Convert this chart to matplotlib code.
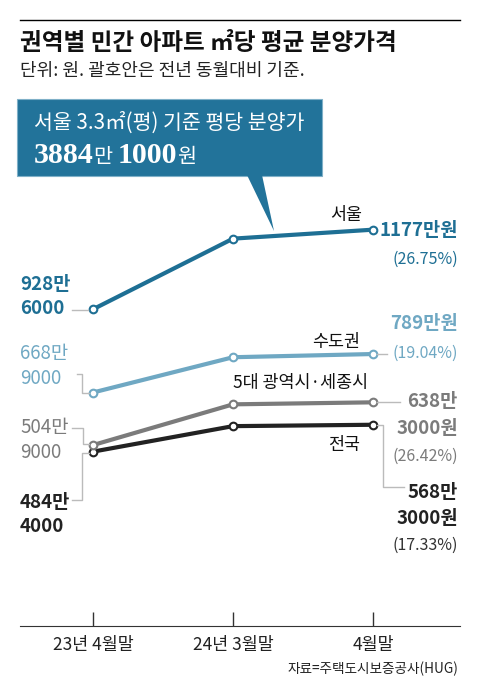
import matplotlib
matplotlib.use('Agg')
import matplotlib.pyplot as plt
from matplotlib.patches import Rectangle, Polygon
from matplotlib.lines import Line2D

plt.rcParams['font.family'] = ['Noto Sans CJK KR', 'DejaVu Sans']

# 데이터 (단위: 만원, 중간 시점은 그림에서 추정)
periods = ['23년 4월말', '24년 3월말', '4월말']
regions = ['서울', '수도권', '5대 광역시·세종시', '전국']
seoul = [928.6, 1149, 1177]
capital = [668.9, 779, 789]
metro = [504.9, 632, 638.3]
nation = [484.4, 564, 568.3]
yoy = ['26.75', '19.04', '26.42', '17.33']

c_seoul = '#1e6f94'
c_box = '#22739a'
c_cap = '#6fa8c3'
c_metro = '#7b7b7b'
c_nat = '#222222'
c_lead = '#bbbbbb'

W, H = 480, 691


def px(x, y):
    return x / W, 1 - y / H


def ftext(x, y, s, **kw):
    kw.setdefault('va', 'center')
    return fig.text(x / W, 1 - y / H, s, **kw)


def leader(xs, ys):
    fig.add_artist(Line2D([x / W for x in xs], [1 - y / H for y in ys],
                          color=c_lead, lw=1, zorder=1))


fig = plt.figure(figsize=(4.8, 6.91), dpi=100)
ax = fig.add_axes([20 / W, 1 - 626 / H, 440 / W, (626 - 100) / H])
ax.patch.set_alpha(0)

for vals, col in zip([nation, metro, capital, seoul], [c_nat, c_metro, c_cap, c_seoul]):
    ax.plot(range(len(periods)), vals, color=col, lw=3, marker='o', ms=5.5,
            mfc='white', mec=col, mew=1.5, solid_joinstyle='miter', zorder=3)

ax.set_xlim(-0.521, 2.621)
ax.set_ylim(-59.6, 1581.6)
ax.set_yticks([])
ax.set_xticks(range(len(periods)))
ax.set_xticklabels(periods)
ax.tick_params(axis='x', direction='in', length=10, width=1, pad=7,
               labelsize=12.5, color='#333333', labelcolor='#222222')
for s in ['top', 'left', 'right']:
    ax.spines[s].set_visible(False)
ax.spines['bottom'].set_color('#333333')

# 제목
fig.add_artist(Line2D([20 / W, 460 / W], [1 - 20 / H] * 2, color='black', lw=1))
ftext(20, 43, '권역별 민간 아파트 ㎡당 평균 분양가격', fontsize=17, fontweight='bold', color='#111111')
ftext(20, 71, '단위: 원. 괄호안은 전년 동월대비 기준.', fontsize=13, color='#222222')

# 말풍선
fig.add_artist(Rectangle(px(17, 176), 305 / W, 77 / H, transform=fig.transFigure,
                         facecolor=c_box, edgecolor='#7fb0c8', lw=0.8, zorder=2))
fig.add_artist(Polygon([px(247, 175), px(262, 175), px(274, 231)], closed=True,
                       transform=fig.transFigure, facecolor=c_box, edgecolor='none', zorder=2))
ftext(34, 123, '서울 3.3㎡(평) 기준 평당 분양가', fontsize=14.8, color='white', zorder=4)

r = fig.canvas.get_renderer()
x0 = 34
for s, kw in [('3884', dict(family=['Liberation Serif'], fontweight='bold', fontsize=21.5)),
              ('만 ', dict(fontsize=15)),
              ('1000', dict(family=['Liberation Serif'], fontweight='bold', fontsize=21.5)),
              ('원', dict(fontsize=15))]:
    t = ftext(x0, 163, s, va='baseline', color='white', zorder=4, **kw)
    x0 += t.get_window_extent(r).width

# 지역 이름
ftext(362, 215, regions[0], fontsize=12.5, ha='right', color='#111111')
ftext(360, 342, regions[1], fontsize=12.5, ha='right', color='#111111')
ftext(368, 383, regions[2], fontsize=12.5, ha='right', color='#111111')
ftext(360, 445, regions[3], fontsize=12.5, ha='right', color='#111111')

# 시작 값
ftext(20, 285, '928만', fontsize=13.5, fontweight='bold', color=c_seoul)
ftext(20, 308, '6000', fontsize=13.5, fontweight='bold', color=c_seoul)
leader([72, 88], [310, 310])

ftext(20, 353, '668만', fontsize=13.5, fontweight='medium', color=c_cap)
ftext(20, 378, '9000', fontsize=13.5, fontweight='medium', color=c_cap)
leader([77, 82, 82, 89], [374, 374, 393, 393])

ftext(20, 428, '504만', fontsize=13.5, fontweight='medium', color=c_metro)
ftext(20, 452, '9000', fontsize=13.5, fontweight='medium', color=c_metro)
leader([72, 83, 83, 89], [428, 428, 444, 444])

ftext(20, 503, '484만', fontsize=13.5, fontweight='bold', color=c_nat)
ftext(20, 527, '4000', fontsize=13.5, fontweight='bold', color=c_nat)
leader([72, 82, 82, 89], [500, 500, 453, 453])

# 끝 값
ftext(458, 230, '1177만원', fontsize=13.5, fontweight='bold', ha='right', color=c_seoul)
ftext(458, 259, '(%s%%)' % yoy[0], fontsize=11.5, ha='right', color=c_seoul)

ftext(458, 324, '789만원', fontsize=13.5, fontweight='bold', ha='right', color=c_cap)
ftext(458, 353, '(%s%%)' % yoy[1], fontsize=11.5, ha='right', color=c_cap)
leader([377, 387], [354, 354])

ftext(458, 402, '638만', fontsize=13.5, fontweight='bold', ha='right', color=c_metro)
ftext(458, 428, '3000원', fontsize=13.5, fontweight='bold', ha='right', color=c_metro)
ftext(458, 456, '(%s%%)' % yoy[2], fontsize=11.5, ha='right', color=c_metro)
leader([377, 400], [402, 402])

ftext(458, 493, '568만', fontsize=13.5, fontweight='bold', ha='right', color=c_nat)
ftext(458, 518, '3000원', fontsize=13.5, fontweight='bold', ha='right', color=c_nat)
ftext(458, 545, '(%s%%)' % yoy[3], fontsize=11.5, ha='right', color='#333333')
leader([377, 383, 383, 404], [425, 425, 487, 487])

ftext(458, 669, '자료=주택도시보증공사(HUG)', fontsize=9.8, ha='right', color='#222222')

fig.savefig('out.png', dpi=100, facecolor='white')
